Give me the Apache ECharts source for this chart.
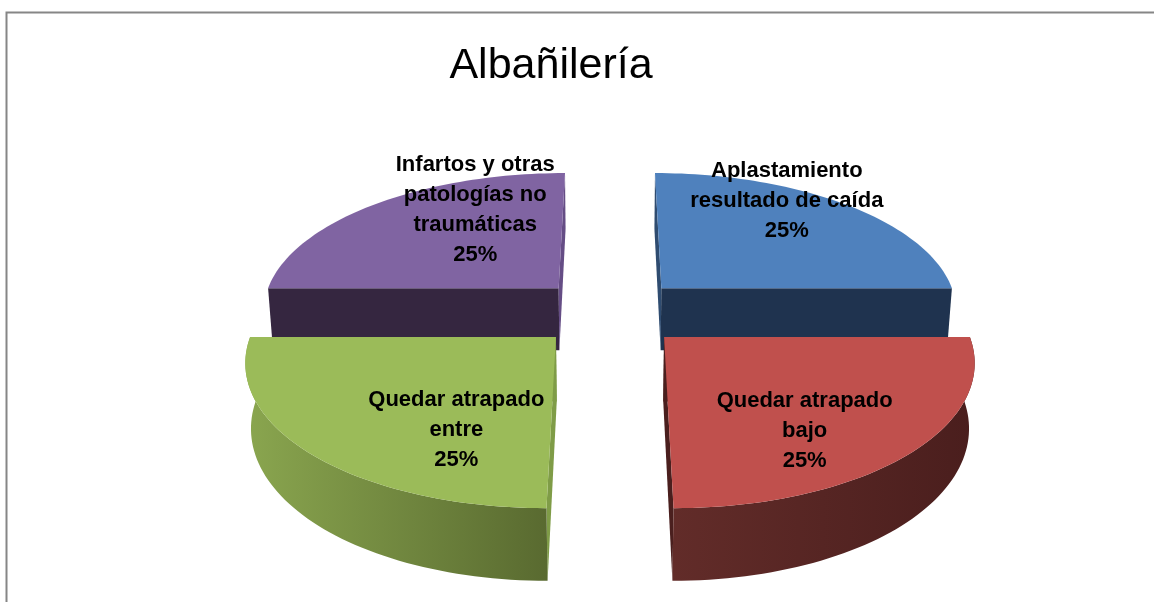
<!DOCTYPE html>
<html>
<head>
<meta charset="utf-8">
<script src="https://cdn.jsdelivr.net/npm/echarts@6/dist/echarts.min.js"></script>
<style>html,body{margin:0;padding:0;background:#fff}#c{width:1154px;height:602px}</style>
</head>
<body>
<div id="c"></div>
<script>
const titleText = 'Albañilería';
const categories = ['Aplastamiento\nresultado de caída', 'Quedar atrapado\nbajo', 'Quedar atrapado\nentre', 'Infartos y otras\npatologías no\ntraumáticas'];
const values = [25, 25, 25, 25];
const topColors = ['#4f81bd', '#c0504d', '#9bbb59', '#8064a2'];
const cutWallColors = ['#1f334f', '#4a1f1e', '#7f9c47', '#352640'];
const sideWallColors = ['#2f4c70', '#4a1f1e', '#7f9c47', '#654d85'];
const arcWallStops = [null, ['#622c29', '#4a1e1d'], ['#8aa64f', '#596a30'], null];
const drawOrder = [3, 0, 2, 1];
const labelOffsets = [[21, -39], [11, 34], [30, 33], [21, -30]];

const total = values.reduce((a, b) => a + b, 0);
const EXPLODE = 0.25, VX = 610, VY = -640, A = 952, B = 298, C = 0.1452, H = 78.5, K = 0.015;

function project(X, Y, Z) {
  const w = 1 + Y * C + K * Z;
  return [VX + B * X / w, VY + (A + H * Z) / w];
}
function sliceAngles(i) {
  let before = 0;
  for (let j = 0; j < i; j++) before += values[j];
  const a0 = before / total * 2 * Math.PI;
  return [a0, a0 + values[i] / total * 2 * Math.PI];
}
function renderItem(params, api) {
  const i = drawOrder[params.dataIndex];
  const [a0, a1] = sliceAngles(i);
  const mid = (a0 + a1) / 2;
  const cx = EXPLODE * Math.sin(mid), cy = EXPLODE * Math.cos(mid);
  const arc = (Z) => {
    const pts = [];
    for (let s = 0; s <= 60; s++) {
      const a = a0 + (a1 - a0) * s / 60;
      pts.push(project(cx + Math.sin(a), cy + Math.cos(a), Z));
    }
    return pts;
  };
  const top = arc(0), bot = arc(1);
  const radialWall = (a) => [
    project(cx, cy, 0),
    project(cx + Math.sin(a), cy + Math.cos(a), 0),
    project(cx + Math.sin(a), cy + Math.cos(a), 1),
    project(cx, cy, 1)
  ];
  const horizontalIsFirst = Math.abs(Math.cos(a0)) < 0.5;
  const cutA = horizontalIsFirst ? a0 : a1;
  const sideA = horizontalIsFirst ? a1 : a0;
  const children = [];
  children.push({ type: 'polygon', shape: { points: radialWall(cutA) }, style: { fill: cutWallColors[i] } });
  children.push({ type: 'polygon', shape: { points: radialWall(sideA) }, style: { fill: sideWallColors[i] } });
  if (arcWallStops[i]) {
    let fromLeft = arcWallStops[i];
    children.push({
      type: 'polygon',
      shape: { points: top.concat(bot.slice().reverse()) },
      style: { fill: new echarts.graphic.LinearGradient(0, 0, 1, 0, [
        { offset: 0, color: fromLeft[0] }, { offset: 1, color: fromLeft[1] }
      ]) }
    });
  }
  children.push({
    type: 'polygon',
    shape: { points: top.concat([project(cx, cy, 0)]) },
    style: { fill: topColors[i] }
  });
  const lp = project(cx + 0.55 * Math.sin(mid), cy + 0.55 * Math.cos(mid), 0);
  children.push({
    type: 'text',
    z2: 100,
    style: {
      text: categories[i] + '\n' + Math.round(api.value(0) / total * 100) + '%',
      x: lp[0] + labelOffsets[i][0],
      y: lp[1] + labelOffsets[i][1],
      align: 'center',
      verticalAlign: 'middle',
      fontFamily: '"Liberation Sans", Arial, sans-serif',
      fontWeight: 'bold',
      fontSize: 22,
      lineHeight: 30,
      fill: '#000'
    }
  });
  return { type: 'group', children };
}

const chart = echarts.init(document.getElementById('c'), null, { renderer: 'canvas' });
chart.setOption({
  animation: false,
  backgroundColor: '#ffffff',
  title: {
    text: titleText,
    left: 546,
    top: 40,
    textAlign: 'center',
    textStyle: { fontFamily: '"Liberation Sans", Arial, sans-serif', fontWeight: 'normal', fontSize: 43, color: '#000' }
  },
  graphic: [{
    type: 'polyline',
    silent: true,
    shape: { points: [[6.5, 602], [6.5, 12.5], [1154, 12.5]] },
    style: { stroke: '#868686', lineWidth: 2, fill: 'none' }
  }],
  series: [{
    type: 'custom',
    coordinateSystem: 'none',
    silent: true,
    renderItem: renderItem,
    data: drawOrder.map(i => ({ name: categories[i], value: [values[i]] }))
  }]
});
</script>
</body>
</html>
